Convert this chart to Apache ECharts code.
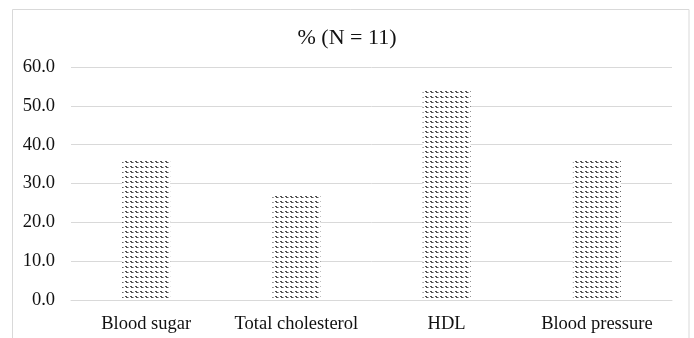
<!DOCTYPE html>
<html>
<head>
<meta charset="utf-8">
<script src="https://cdn.jsdelivr.net/npm/echarts@6/dist/echarts.min.js"></script>
<style>html,body{margin:0;padding:0;background:#fff;}#c{width:694px;height:338px;}</style>
</head>
<body>
<div id="c"></div>
<script>
const categories = ['Blood sugar', 'Total cholesterol', 'HDL', 'Blood pressure'];
const values = [36.4, 27.3, 54.5, 36.4];
const yTicks = { min: 0, max: 60, interval: 10 };
const titleText = '% (N = 11)';

function makePattern() {
  const c = document.createElement('canvas');
  c.width = 5; c.height = 5;
  const g = c.getContext('2d');
  g.fillStyle = '#ffffff';
  g.fillRect(0, 0, 5, 5);
  g.fillStyle = 'rgba(40,40,40,0.8)';
  g.fillRect(0, 1, 2, 1);
  g.fillRect(1, 2, 2, 1);
  g.fillStyle = 'rgba(40,40,40,0.4)';
  g.fillRect(3, 2, 1, 1);
  return c;
}

const chart = echarts.init(document.getElementById('c'), null, { renderer: 'canvas' });
const font = 'Liberation Serif, Times New Roman, serif';
chart.setOption({
  animation: false,
  backgroundColor: '#fff',
  title: {
    text: titleText, left: 'center', top: 22,
    textStyle: { fontFamily: font, fontSize: 22, fontWeight: 'normal', color: '#111' }
  },
  graphic: [{
    type: 'rect', shape: { x: 12.5, y: 9.5, width: 676.5, height: 340 },
    style: { fill: 'none', stroke: '#d9d9d9', lineWidth: 1 }, silent: true, z: -1
  }],
  grid: { left: 71, right: 22, top: 67, bottom: 38 },
  xAxis: {
    type: 'category', data: categories,
    axisLine: { lineStyle: { color: '#d9d9d9' } },
    axisTick: { show: false },
    axisLabel: { fontFamily: font, fontSize: 18.5, color: '#111', margin: 15,
      interval: 0, hideOverlap: false }
  },
  yAxis: {
    type: 'value', min: yTicks.min, max: yTicks.max, interval: yTicks.interval,
    axisLine: { show: false }, axisTick: { show: false },
    splitLine: { lineStyle: { color: '#d9d9d9' } },
    axisLabel: { fontFamily: font, fontSize: 18.5, color: '#111', margin: 16,
      formatter: v => v.toFixed(1) }
  },
  series: [{
    type: 'bar', data: values, barWidth: 48,
    itemStyle: { color: { image: makePattern(), repeat: 'repeat' } }
  }]
});
</script>
</body>
</html>
